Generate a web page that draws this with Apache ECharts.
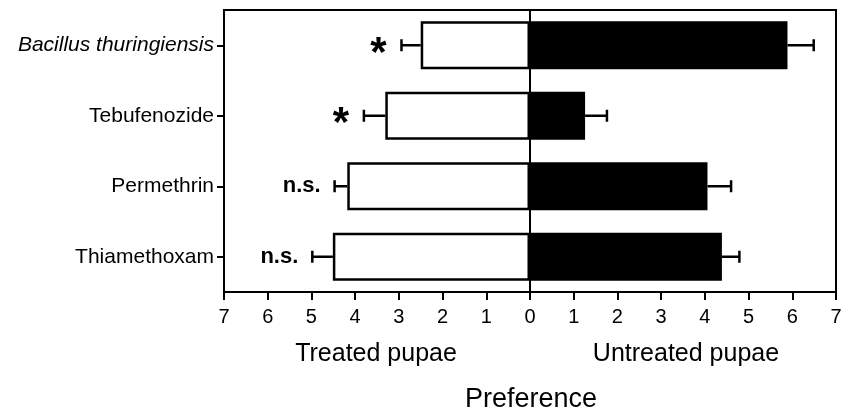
<!DOCTYPE html>
<html>
<head>
<meta charset="utf-8">
<script src="https://cdn.jsdelivr.net/npm/echarts@6/dist/echarts.min.js"></script>
<style>
  html, body { margin: 0; padding: 0; background: #fff; }
  #chart { width: 841px; height: 416px; }
</style>
</head>
<body>
<div id="chart"></div>
<script>
  // data (top to bottom)
  var categories = ['Bacillus thuringiensis', 'Tebufenozide', 'Permethrin', 'Thiamethoxam'];
  var treated = [2.5, 3.31, 4.18, 4.51];        // drawn to the left
  var treatedErr = [0.44, 0.49, 0.29, 0.47];
  var untreated = [5.89, 1.26, 4.06, 4.39];     // drawn to the right
  var untreatedErr = [0.6, 0.5, 0.54, 0.4];
  var marks = ['*', '*', 'n.s.', 'n.s.'];
  var ticks = [-7, -6, -5, -4, -3, -2, -1, 0, 1, 2, 3, 4, 5, 6, 7];

  var font = 'Liberation Sans, Arial, sans-serif';

  var treatedData = treated.map(function (v) { return -v; });
  var errData = [];
  categories.forEach(function (c, i) {
    errData.push([-treated[i], i, -(treated[i] + treatedErr[i]), marks[i]]);
    errData.push([untreated[i], i, untreated[i] + untreatedErr[i], '']);
  });

  function renderErr(params, api) {
    var start = api.coord([api.value(0), api.value(1)]);
    var end = api.coord([api.value(2), api.value(1)]);
    var mark = errData[params.dataIndex][3];
    var children = [
      { type: 'line', shape: { x1: start[0], y1: start[1], x2: end[0], y2: end[1] },
        style: { stroke: '#000', lineWidth: 2.5 } },
      { type: 'line', shape: { x1: end[0], y1: end[1] - 6, x2: end[0], y2: end[1] + 6 },
        style: { stroke: '#000', lineWidth: 2.5 } }
    ];
    if (mark === '*') {
      children.push({ type: 'text', x: end[0] - 23, y: end[1] + 9,
        style: { text: mark, font: 'bold 42px ' + font, fill: '#000', align: 'center', verticalAlign: 'middle' } });
    } else if (mark) {
      children.push({ type: 'text', x: end[0] - 14, y: end[1],
        style: { text: mark, font: 'bold 22px ' + font, fill: '#000', align: 'right', verticalAlign: 'middle' } });
    }
    return { type: 'group', children: children };
  }

  var chart = echarts.init(document.getElementById('chart'));
  chart.setOption({
    animation: false,
    backgroundColor: '#fff',
    grid: { left: 224, right: 5, top: 10, bottom: 124, outerBoundsMode: 'none',
      show: true, borderColor: '#000', borderWidth: 2, backgroundColor: 'transparent' },
    xAxis: {
      type: 'value', min: ticks[0], max: ticks[ticks.length - 1], interval: 1,
      axisLine: { show: true, lineStyle: { color: '#000', width: 2 } },
      axisTick: { show: true, length: 8, lineStyle: { color: '#000', width: 2 } },
      splitLine: { show: false },
      axisLabel: { color: '#000', fontSize: 20, fontFamily: font, margin: 15,
        formatter: function (v) { return String(Math.abs(v)); } }
    },
    yAxis: {
      type: 'category', data: categories, inverse: true,
      axisLine: { show: true, onZero: false, lineStyle: { color: '#000', width: 2 } },
      axisTick: { show: true, alignWithLabel: true, length: 7, lineStyle: { color: '#000', width: 2 } },
      axisLabel: { color: '#000', fontSize: 21, fontFamily: font, margin: 10,
        formatter: function (v, i) { return i === 0 ? '{i|' + v + '}' : v; },
        rich: { i: { fontStyle: 'italic', fontSize: 21, fontFamily: font, color: '#000' } } }
    },
    graphic: [
      { type: 'text', x: 376, y: 354, style: { text: 'Treated pupae', font: '25px ' + font, fill: '#000', align: 'center', verticalAlign: 'middle' } },
      { type: 'text', x: 686, y: 354, style: { text: 'Untreated pupae', font: '25px ' + font, fill: '#000', align: 'center', verticalAlign: 'middle' } },
      { type: 'text', x: 531, y: 400, style: { text: 'Preference', font: '27px ' + font, fill: '#000', align: 'center', verticalAlign: 'middle' } }
    ],
    series: [
      { name: 'Treated pupae', type: 'bar', data: treatedData, barWidth: '68%', barGap: '-100%',
        itemStyle: { color: '#fff', borderColor: '#000', borderWidth: 2.5 } },
      { name: 'Untreated pupae', type: 'bar', data: untreated, barWidth: '68%', barGap: '-100%',
        itemStyle: { color: '#000', borderColor: '#000', borderWidth: 0 },
        markLine: { silent: true, symbol: 'none', label: { show: false },
          lineStyle: { color: '#000', width: 2, type: 'solid' }, data: [{ xAxis: 0 }] } },
      { type: 'custom', renderItem: renderErr, data: errData, encode: { x: [0, 2], y: 1 }, z: 5 }
    ]
  });
</script>
</body>
</html>
